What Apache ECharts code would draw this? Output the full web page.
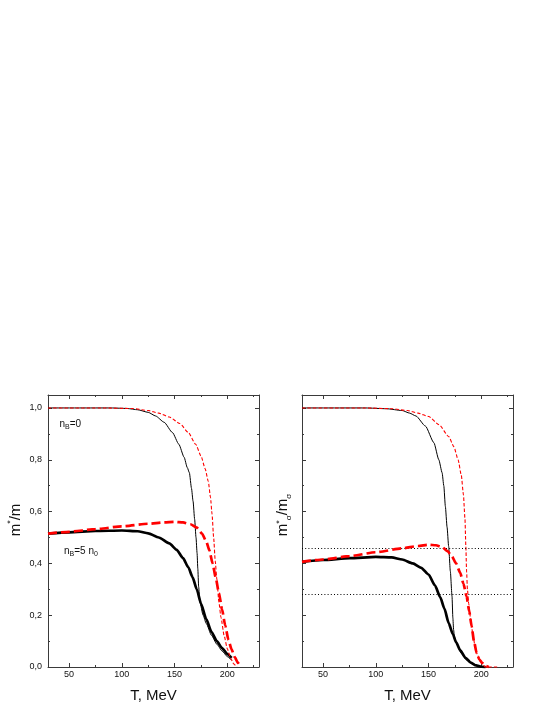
<!DOCTYPE html>
<html>
<head>
<meta charset="utf-8">
<script src="https://cdn.jsdelivr.net/npm/echarts@6/dist/echarts.min.js"></script>
<style>
html,body{margin:0;padding:0;background:#fff;}
#chart{width:545px;height:705px;}
</style>
</head>
<body>
<div id="chart"></div>
<script>
// ---------- data (T in MeV, ratio) ----------
const xMajorTicks = [50, 100, 150, 200];
const xMinorTicks = [75, 125, 175, 225];
const xLimits = [30, 230];
const yLimits = [0, 1.05];

// Left panel: m*/m
const leftThinBlack = [[30,1.0],[60,1.0],[90,1.0],[105,0.998],[115,0.993],[125,0.983],[132,0.969],[140,0.945],[148,0.905],[154,0.86],[159,0.81],[162,0.77],[164,0.75],[166,0.69],[167.5,0.64],[169,0.57],[170.3,0.5],[171.3,0.44],[172,0.38],[172.8,0.31],[174,0.25],[177,0.2],[180,0.168],[185,0.122],[190,0.088],[195,0.062],[200,0.04],[204,0.026]];
const leftThickBlack = [[30,0.515],[50,0.52],[75,0.525],[100,0.527],[115,0.524],[125,0.516],[135,0.5],[145,0.477],[152,0.452],[158,0.42],[163,0.385],[167,0.347],[171,0.3],[175,0.245],[180,0.185],[185,0.135],[190,0.1],[195,0.073],[200,0.05],[204,0.035]];
const leftThinRed = [[30,1.0],[80,1.0],[110,0.998],[125,0.99],[135,0.98],[145,0.965],[155,0.94],[163,0.905],[170,0.86],[175,0.815],[179,0.765],[182,0.715],[184,0.655],[185.5,0.59],[187,0.5],[188.5,0.41],[190,0.34],[192,0.25],[194,0.19],[197,0.12],[200,0.07],[203,0.035],[206,0.012],[209,0]];
const leftThickRed = [[30,0.515],[50,0.522],[75,0.532],[100,0.543],[125,0.553],[140,0.558],[150,0.56],[158,0.558],[165,0.551],[171,0.538],[176,0.515],[180,0.485],[183,0.45],[186,0.4],[189,0.345],[192,0.285],[195,0.222],[198,0.16],[201,0.105],[204,0.068],[207,0.038],[210,0.016],[213,0]];

// Right panel: m*_sigma/m_sigma
const rightThinBlack = [[30,1.0],[90,1.0],[110,0.997],[125,0.99],[132,0.98],[138,0.969],[147,0.93],[155,0.866],[159.7,0.8],[162.8,0.75],[164.4,0.7],[165.9,0.62],[167.5,0.54],[169,0.466],[170.6,0.37],[172.2,0.273],[173,0.19],[173.7,0.144],[174.5,0.115],[177,0.085],[181,0.052],[186,0.027],[192,0.01],[200,0.002],[205,0]];
const rightThickBlack = [[30,0.406],[50,0.413],[75,0.42],[100,0.425],[115,0.423],[125,0.415],[135,0.4],[143,0.383],[150,0.357],[156,0.315],[161,0.27],[165,0.225],[169,0.17],[173,0.127],[176,0.096],[180,0.064],[185,0.035],[190,0.017],[195,0.006],[200,0.001],[204,0]];
const rightThinRed = [[30,1.0],[90,1.0],[115,0.997],[130,0.99],[140,0.98],[150,0.967],[160,0.935],[169,0.89],[174,0.85],[178,0.8],[181,0.74],[183,0.665],[184.5,0.57],[185.3,0.466],[186,0.37],[186.8,0.3],[188,0.245],[190,0.18],[192,0.125],[194,0.08],[196.5,0.045],[199,0.022],[202,0.006],[204,0],[215,0]];
const rightThickRed = [[30,0.406],[50,0.415],[75,0.428],[100,0.443],[125,0.458],[140,0.467],[150,0.472],[157,0.47],[163,0.462],[168,0.447],[172,0.428],[176,0.4],[180,0.363],[183,0.322],[186,0.273],[188.5,0.215],[190.8,0.157],[193,0.1],[195.5,0.054],[198,0.03],[201,0.015],[204,0.004],[207,0]];

// horizontal dotted reference levels in right panel
const rightRefLevels = [0.46, 0.28];

// ---------- chart ----------
const chart = echarts.init(document.getElementById('chart'), null, {renderer:'canvas'});
const FRAME = '#3a3a3a';
const FONT = 'Liberation Sans, Arial, sans-serif';

function xAxesFor(gi) {
  const base = {gridIndex: gi, type: 'value', min: xLimits[0], max: xLimits[1], splitLine:{show:false}};
  return [
    Object.assign({}, base, {position:'bottom',
      axisLine:{show:true, onZero:false, lineStyle:{color:FRAME, width:1}},
      axisTick:{show:true, inside:true, length:4, customValues:xMajorTicks, lineStyle:{color:FRAME}},
      axisLabel:{show:true, customValues:xMajorTicks, margin:3, fontSize:9, color:'#111', fontFamily:FONT}}),
    Object.assign({}, base, {position:'bottom',
      axisLine:{show:false, onZero:false},
      axisTick:{show:true, inside:true, length:2, customValues:xMinorTicks, lineStyle:{color:FRAME}},
      axisLabel:{show:false}}),
    Object.assign({}, base, {position:'top',
      axisLine:{show:true, onZero:false, lineStyle:{color:FRAME, width:1}},
      axisTick:{show:true, inside:true, length:4, customValues:xMajorTicks, lineStyle:{color:FRAME}},
      axisLabel:{show:false}}),
    Object.assign({}, base, {position:'top',
      axisLine:{show:false, onZero:false},
      axisTick:{show:true, inside:true, length:2, customValues:xMinorTicks, lineStyle:{color:FRAME}},
      axisLabel:{show:false}})
  ];
}
function yAxesFor(gi, labels) {
  const base = {gridIndex: gi, type:'value', min:yLimits[0], max:yLimits[1], interval:0.2, splitLine:{show:false},
    axisLine:{show:true, onZero:false, lineStyle:{color:FRAME, width:1}},
    axisTick:{show:true, inside:true, length:4, lineStyle:{color:FRAME}},
    minorTick:{show:true, splitNumber:2, length:2, lineStyle:{color:FRAME}}};
  return [
    Object.assign({}, base, {position:'left',
      axisLabel:{show:labels, showMaxLabel:false, margin:6, fontSize:9, color:'#111', fontFamily:FONT,
        formatter: v => (v > 1.01 ? '' : v.toFixed(1).replace('.', ','))}}),
    Object.assign({}, base, {position:'right', axisLabel:{show:false}})
  ];
}

function lineSeries(data, xi, yi, color, width, dash, z) {
  return {type:'line', data:data, xAxisIndex:xi, yAxisIndex:yi, symbol:'none', smooth:0.2, smoothMonotone:'x',
    clip:false, z:z, lineStyle:{color:color, width:width, type:dash}};
}

const thinDash = [3.5, 2];
const thickDash = [9, 4];

const series = [
  lineSeries(leftThinBlack, 0, 0, '#000', 1, 'solid', 2),
  lineSeries(leftThickBlack, 0, 0, '#000', 2.7, 'solid', 3),
  lineSeries(leftThinRed, 0, 0, '#ff0000', 1.1, thinDash, 4),
  lineSeries(leftThickRed, 0, 0, '#ff0000', 2.7, thickDash, 5),
  lineSeries(rightThinBlack, 4, 2, '#000', 1, 'solid', 2),
  Object.assign(lineSeries(rightThickBlack, 4, 2, '#000', 2.7, 'solid', 3), {
    markLine:{silent:true, symbol:['none','none'], label:{show:false}, animation:false,
      lineStyle:{color:'#000', width:1, type:[1,2.2]},
      data: rightRefLevels.map(v => ({yAxis:v}))}}),
  lineSeries(rightThinRed, 4, 2, '#ff0000', 1.1, thinDash, 4),
  lineSeries(rightThickRed, 4, 2, '#ff0000', 2.7, thickDash, 5)
];

const mainTok = {fontSize:10, fontFamily:FONT, fill:'#111', lineHeight:12, verticalAlign:'top'};
const subTok = {fontSize:7, fontFamily:FONT, fill:'#111', lineHeight:4, verticalAlign:'bottom'};

const option = {
  animation:false,
  backgroundColor:'#fff',
  grid:[
    {left:48, top:395, width:211, height:272},
    {left:302, top:395, width:211, height:272}
  ],
  xAxis: xAxesFor(0).concat(xAxesFor(1)),
  yAxis: yAxesFor(0, true).concat(yAxesFor(1, false)),
  series: series,
  graphic:[
    {type:'text', x:153.5, y:696, style:{text:'T, MeV', font:'15px '+FONT, fill:'#111', align:'center', verticalAlign:'middle'}},
    {type:'text', x:407.5, y:696, style:{text:'T, MeV', font:'15px '+FONT, fill:'#111', align:'center', verticalAlign:'middle'}},
    {type:'text', x:15, y:520, rotation:Math.PI/2, style:{
      text:'{m|m}{sup|*}{m|/m}', align:'center', verticalAlign:'middle',
      rich:{m:{fontSize:15, fontFamily:FONT, fill:'#111', lineHeight:17, verticalAlign:'bottom'},
            sup:{fontSize:9, fontFamily:FONT, fill:'#111', lineHeight:10, verticalAlign:'top'}}}},
    {type:'text', x:284, y:515, rotation:Math.PI/2, style:{
      text:'{m|m}{sup|*}{sub|σ}{m|/m}{sub|σ}', align:'center', verticalAlign:'middle',
      rich:{m:{fontSize:15, fontFamily:FONT, fill:'#111', lineHeight:17, verticalAlign:'top'},
            sup:{fontSize:9, fontFamily:FONT, fill:'#111', lineHeight:10, verticalAlign:'top'},
            sub:{fontSize:8, fontFamily:FONT, fill:'#111', lineHeight:6, verticalAlign:'bottom'}}}},
    {type:'text', x:59.5, y:425, style:{
      text:'{n|n}{s|B}{n|=0}', align:'left', verticalAlign:'middle',
      rich:{n:mainTok, s:subTok}}},
    {type:'text', x:64, y:552, style:{
      text:'{n|n}{s|B}{n|=5 n}{s|0}', align:'left', verticalAlign:'middle',
      rich:{n:mainTok, s:subTok}}}
  ]
};
chart.setOption(option);
</script>
</body>
</html>
